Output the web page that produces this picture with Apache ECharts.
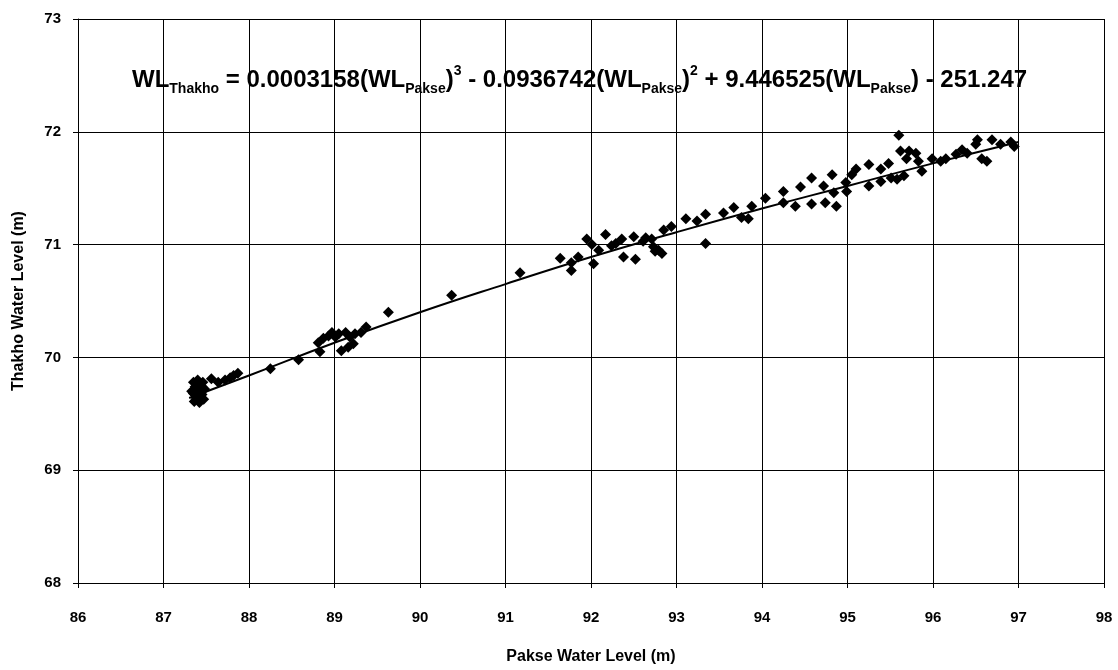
<!DOCTYPE html>
<html>
<head>
<meta charset="utf-8">
<script src="https://cdn.jsdelivr.net/npm/echarts@6/dist/echarts.min.js"></script>
<style>
html,body{margin:0;padding:0;background:#fff;}
#chart{width:1118px;height:670px;}
</style>
</head>
<body>
<div id="chart"></div>
<script>
// Observed points: Pakse water level (x) vs Thakho water level (y)
var pakse = [
87.35,87.40,87.45,87.38,87.42,87.35,87.45,87.40,87.38,87.43,87.36,87.42,87.47,87.33,87.48,87.40,87.46,87.37,
87.56,87.64,87.72,87.78,87.82,87.87,88.25,88.58,88.83,88.81,88.87,88.93,88.97,89.01,89.05,89.08,89.16,89.13,
89.18,89.22,89.24,89.31,89.37,89.63,90.37,91.17,91.64,91.77,91.77,91.85,91.95,92.01,92.03,92.09,92.17,92.24,
92.29,92.36,92.38,92.50,92.52,92.61,92.64,92.71,92.73,92.75,92.79,92.83,92.85,92.94,93.11,93.24,93.34,93.34,
93.55,93.67,93.76,93.84,93.88,94.04,94.25,94.25,94.39,94.45,94.58,94.58,94.72,94.74,94.82,94.84,94.87,94.98,
94.99,95.05,95.10,95.25,95.25,95.39,95.39,95.48,95.51,95.58,95.60,95.62,95.66,95.69,95.72,95.80,95.83,95.87,
95.99,96.09,96.15,96.27,96.34,96.40,96.50,96.52,96.57,96.63,96.69,96.79,96.91,96.95
];
var thakho = [
69.78,69.76,69.74,69.72,69.70,69.68,69.67,69.65,69.63,69.62,69.61,69.60,69.63,69.70,69.72,69.80,69.78,69.74,
69.81,69.78,69.80,69.82,69.84,69.86,69.90,69.98,70.05,70.13,70.17,70.19,70.22,70.18,70.21,70.06,70.09,70.22,
70.18,70.12,70.21,70.22,70.27,70.40,70.55,70.75,70.88,70.84,70.77,70.89,71.05,71.00,70.83,70.95,71.09,70.99,
71.01,71.05,70.89,71.07,70.87,71.03,71.06,71.05,70.98,70.94,70.95,70.92,71.13,71.16,71.23,71.21,71.27,71.01,
71.28,71.33,71.24,71.23,71.34,71.41,71.47,71.37,71.34,71.51,71.59,71.36,71.52,71.37,71.62,71.46,71.34,71.55,
71.47,71.62,71.67,71.71,71.52,71.67,71.56,71.72,71.59,71.58,71.97,71.83,71.61,71.76,71.83,71.81,71.74,71.65,
71.76,71.74,71.76,71.80,71.84,71.81,71.89,71.93,71.76,71.74,71.93,71.89,71.91,71.87
];
// Trend line
var trendX = [87.3, 88, 89, 90, 91, 92, 93, 94, 95, 96, 97];
var trendY = [69.64, 69.84, 70.13, 70.40, 70.65, 70.89, 71.11, 71.32, 71.52, 71.72, 71.91];
var xTicks = [86, 87, 88, 89, 90, 91, 92, 93, 94, 95, 96, 97, 98];
var yTicks = [68, 69, 70, 71, 72, 73];

var pts = pakse.map(function(v, i){ return [v, thakho[i]]; });
var trend = trendX.map(function(v, i){ return [v, trendY[i]]; });

var FONT = 'Liberation Sans, Arial, sans-serif';
var chart = echarts.init(document.getElementById('chart'));
chart.setOption({
  backgroundColor: '#ffffff',
  animation: false,
  title: {
    left: 127,
    top: 59,
    text: '{m|WL}{s|Thakho}{m| = 0.0003158(WL}{s|Pakse}{m|)}{p|3}{m| - 0.0936742(WL}{s|Pakse}{m|)}{p|2}{m| + 9.446525(WL}{s|Pakse}{m|) - 251.247}',
    textStyle: {
      rich: {
        m: {fontSize: 24, fontWeight: 'bold', fontFamily: FONT, color: '#000', lineHeight: 32, letterSpacing: 0.2},
        s: {fontSize: 14, fontWeight: 'bold', fontFamily: FONT, color: '#000', lineHeight: 18, verticalAlign: 'bottom'},
        p: {fontSize: 14, fontWeight: 'bold', fontFamily: FONT, color: '#000', lineHeight: 14, verticalAlign: 'top'}
      }
    }
  },
  grid: {left: 78, right: 14, top: 19, bottom: 84, containLabel: false},
  xAxis: {
    type: 'value', min: xTicks[0], max: xTicks[xTicks.length-1], interval: 1,
    name: 'Pakse Water Level (m)', nameLocation: 'middle', nameGap: 66,
    nameTextStyle: {fontSize: 16, fontWeight: 'bold', fontFamily: FONT, color: '#000'},
    axisLine: {lineStyle: {color: '#000', width: 1}},
    axisTick: {show: true, length: 5, lineStyle: {color: '#000'}},
    axisLabel: {margin: 27, fontSize: 15, fontWeight: 'bold', fontFamily: FONT, color: '#000'},
    splitLine: {show: true, lineStyle: {color: '#000', width: 1}}
  },
  yAxis: {
    type: 'value', min: yTicks[0], max: yTicks[yTicks.length-1], interval: 1,
    name: 'Thakho Water Level (m)', nameLocation: 'middle', nameGap: 51, nameRotate: 90,
    nameTextStyle: {fontSize: 16, fontWeight: 'bold', fontFamily: FONT, color: '#000'},
    axisLine: {show: true, lineStyle: {color: '#000', width: 1}},
    axisTick: {show: true, length: 5, lineStyle: {color: '#000'}},
    axisLabel: {margin: 17, fontSize: 15, fontWeight: 'bold', fontFamily: FONT, color: '#000'},
    splitLine: {show: true, lineStyle: {color: '#000', width: 1}}
  },
  series: [
    {
      type: 'line', data: trend, smooth: true, showSymbol: false, symbol: 'none',
      lineStyle: {color: '#000', width: 2}, z: 3
    },
    {
      type: 'scatter', data: pts, symbol: 'diamond', symbolSize: 11,
      itemStyle: {color: '#000', opacity: 1}, z: 4
    }
  ]
});
</script>
</body>
</html>
